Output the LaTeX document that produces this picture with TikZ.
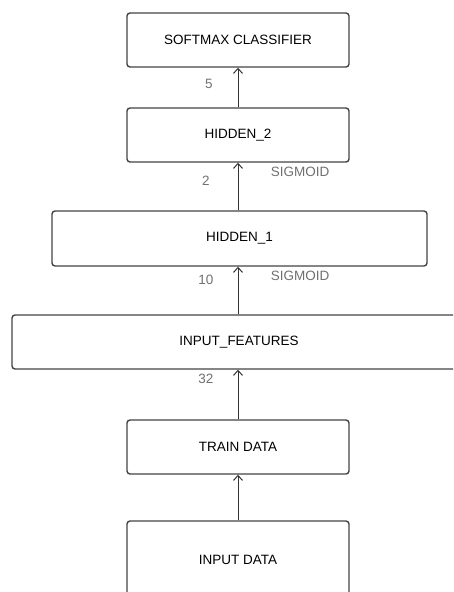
\documentclass[tikz,border=0pt]{standalone}
\usepackage{fontspec}
\setmainfont{Liberation Sans}
\usepackage{tikz}
\usetikzlibrary{arrows.meta}

\definecolor{boxline}{HTML}{444444}
\definecolor{labelgray}{HTML}{707070}

\begin{document}
\begin{tikzpicture}[x=1pt, y=-1pt,
	layer/.style={draw=boxline, line width=1.4pt, rounded corners=3pt, inner sep=0pt, fill=white, font=\fontsize{13.5}{16}\selectfont},
	flow/.style={draw=black!80, line width=1pt, -{Straight Barb[length=5pt, width=9pt]}},
	note/.style={text=labelgray, inner sep=0pt, font=\fontsize{13.5}{16}\selectfont}]
	\useasboundingbox (0,0) rectangle (453,592);
	\clip (0,0) rectangle (453,592);

	\node[layer, minimum width=222, minimum height=54] (softmax) at (238,40) {SOFTMAX CLASSIFIER};
	\node[layer, minimum width=222, minimum height=54] (hiddentwo) at (238,135) {HIDDEN\_2};
	\node[layer, minimum width=375, minimum height=55] (hiddenone) at (239.5,238.5) {HIDDEN\_1};
	\node[layer, minimum width=454, minimum height=54] (features) at (239,342) {INPUT\_FEATURES};
	\node[layer, minimum width=222, minimum height=54] (train) at (238,447) {TRAIN DATA};
	\node[layer, minimum width=222, minimum height=78] (input) at (238,560) {INPUT DATA};

	\draw[flow] (input.north) -- (train.south);
	\draw[flow] (train.north) -- (train.north |- features.south);
	\draw[flow] (train.north |- features.north) -- (train.north |- hiddenone.south);
	\draw[flow] (train.north |- hiddenone.north) -- (hiddentwo.south);
	\draw[flow] (hiddentwo.north) -- (softmax.south);

	\node[note] (dimfive) at (209,84) {5};
	\node[note] (dimtwo) at (206,181) {2};
	\node[note] (dimten) at (206,280) {10};
	\node[note] (dimthirtytwo) at (206,379) {32};
	\node[note] (actone) at (300,172) {SIGMOID};
	\node[note] (acttwo) at (300,276) {SIGMOID};

\end{tikzpicture}
\end{document}
